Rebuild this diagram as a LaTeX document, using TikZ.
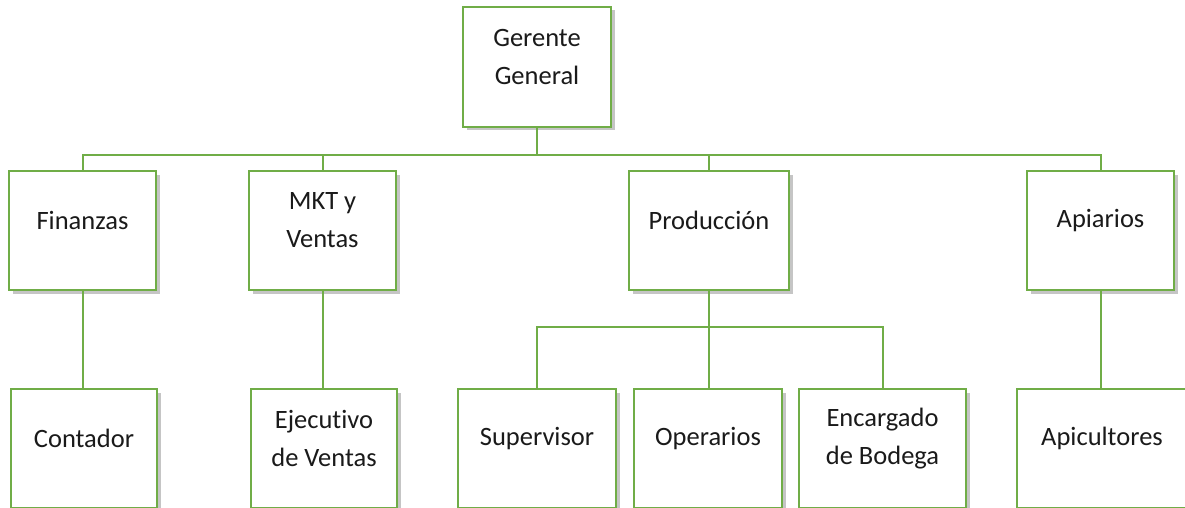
\documentclass[tikz,border=0pt]{standalone}
\usepackage{fontspec}
\setmainfont[Ligatures={NoCommon}]{Carlito}
\usetikzlibrary{shadows}
\definecolor{orggreen}{HTML}{70AD47}
\definecolor{orgtext}{HTML}{1A1A1A}
\tikzset{
  orgbox/.style={draw=orggreen, line width=2pt, fill=white, minimum height=119pt, inner sep=0pt,
    drop shadow={shadow xshift=3.5pt, shadow yshift=-3.5pt, fill=black!45, opacity=.5}},
  lbl/.style={text=orgtext, align=center, font=\fontsize{26.5pt}{38pt}\selectfont, inner sep=0pt, yshift=10pt},
  link/.style={draw=orggreen, line width=2pt}
}
\begin{document}
\begin{tikzpicture}[x=1pt,y=-1pt]
\useasboundingbox (0,0) rectangle (1185,508);
\fill[white] (0,0) rectangle (1185,508);
\coordinate (bus) at (0,155);
\coordinate (sbus) at (0,327);
% level 0
\node[orgbox, minimum width=148pt, minimum height=120pt, label={[lbl]center:{Gerente\\General}}] (gg) at (537,67) {};
% level 1
\node[orgbox, minimum width=147pt, label={[lbl]center:Finanzas}] (fin) at (82.5,230.5) {};
\node[orgbox, minimum width=147pt, label={[lbl]center:{MKT y\\Ventas}}] (mkt) at (322.5,230.5) {};
\node[orgbox, minimum width=160pt, label={[lbl]center:Producción}] (prod) at (709,230.5) {};
\node[orgbox, minimum width=147pt, label={[lbl]center:Apiarios}] (api) at (1100.5,230.5) {};
% level 2
\node[orgbox, minimum width=146pt, label={[lbl]center:Contador}] (cont) at (84,448.5) {};
\node[orgbox, minimum width=146pt, label={[lbl]center:{Ejecutivo\\de Ventas}}] (eje) at (324,448.5) {};
\node[orgbox, minimum width=158pt, label={[lbl]center:Supervisor}] (sup) at (537,448.5) {};
\node[orgbox, minimum width=148pt, label={[lbl]center:Operarios}] (ope) at (708,448.5) {};
\node[orgbox, minimum width=167pt, label={[lbl]center:{Encargado\\de Bodega}}] (enc) at (882.5,448.5) {};
\node[orgbox, minimum width=170pt, label={[lbl]center:Apicultores}] (apc) at (1102,448.5) {};
% connectors level 0-1
\draw[link] (gg.south) -- (gg.south |- bus);
\draw[link] (fin.north) -- (fin.north |- bus) -- (api.north |- bus) -- (api.north);
\draw[link] (mkt.north) -- (mkt.north |- bus);
\draw[link] (prod.north) -- (prod.north |- bus);
% connectors level 1-2
\draw[link] (fin.south) -- (fin.south |- cont.north);
\draw[link] (mkt.south) -- (mkt.south |- eje.north);
\draw[link] (prod.south) -- (prod.south |- ope.north);
\draw[link] (sup.north) -- (sup.north |- sbus) -- (enc.north |- sbus) -- (enc.north);
\draw[link] (api.south) -- (api.south |- apc.north);
\end{tikzpicture}
\end{document}
